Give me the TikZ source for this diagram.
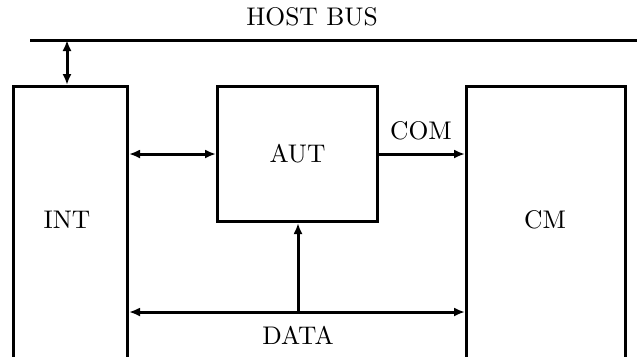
\documentclass[tikz,border=0pt]{standalone}
\usetikzlibrary{arrows.meta}
\tikzset{
  box/.style={draw, line width=1.2pt, inner sep=0pt, anchor=north west},
  conn/.style={line width=1.2pt, {Latex[length=4.4pt,width=3.6pt]}-{Latex[length=4.4pt,width=3.6pt]}},
  conn1/.style={line width=1.2pt, -{Latex[length=4.4pt,width=3.6pt]}},
  lbl/.style={font=\fontsize{10.2}{12}\selectfont, inner sep=0pt}
}
\begin{document}
\begin{tikzpicture}[x=0.4pt, y=-0.4pt]
\useasboundingbox (0,0) rectangle (637,356);
\clip (0,0) rectangle (637,356);
% boxes
\node[box, minimum width=45.6pt, minimum height=124pt] (INT) at (12,85) {};
\node[box, minimum width=64pt, minimum height=54pt] (AUT) at (216,85) {};
\node[box, minimum width=63.6pt, minimum height=124pt] (CM) at (465,85) {};
% texts
\node[lbl] (intlbl) at (67,220) {INT};
\node[lbl] (autlbl) at (AUT.center) {AUT};
\node[lbl] (cmlbl) at (545,220) {CM};
\node[lbl] (hostlbl) at (312,17) {HOST BUS};
\node[lbl] (comlbl) at (421,131) {COM};
\node[lbl] (datalbl) at (298,335) {DATA};
% host bus
\coordinate (busL) at (30,40);
\coordinate (busR) at (640,40);
\coordinate (busT) at (67,40);
\draw[line width=1.2pt] (busL) -- (busR);
\draw[conn] (busT) -- (busT |- INT.north);
% INT <-> AUT
\draw[conn] (INT.east |- AUT.west) -- (AUT.west);
% AUT -> CM
\draw[conn1] (AUT.east) -- (CM.west |- AUT.east);
% data bus
\coordinate (dmid) at (298,312);
\draw[conn] (INT.east |- dmid) -- (CM.west |- dmid);
\draw[conn1] (dmid) -- (dmid |- AUT.south);
\end{tikzpicture}
\end{document}
